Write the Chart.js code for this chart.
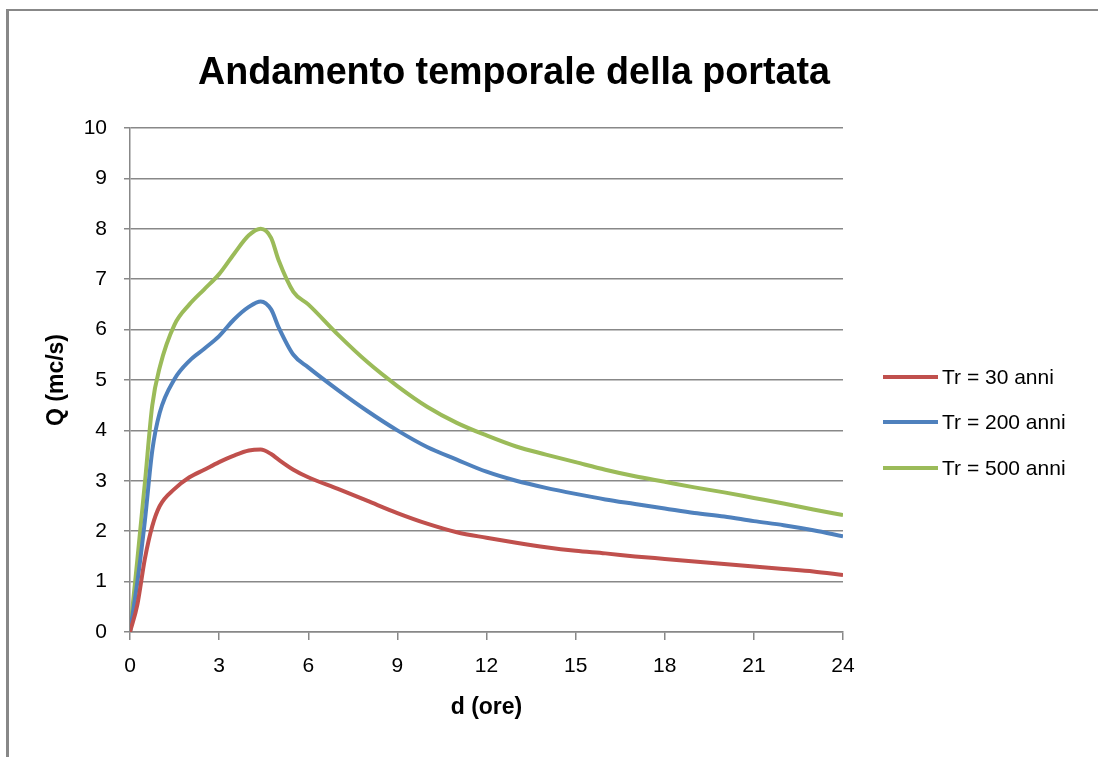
<!DOCTYPE html>
<html>
<head>
<meta charset="utf-8">
<script src="https://cdn.jsdelivr.net/npm/chart.js@4"></script>
<style>
  html, body { margin: 0; padding: 0; background: #fff; }
  #wrap { position: relative; width: 1098px; height: 757px; overflow: hidden; }
  #frame { position: absolute; left: 6px; top: 9px; width: 1200px; height: 900px;
           border-top: 2px solid #888; border-left: 3px solid #888; }
  canvas { position: absolute; left: 0; top: 0; }
</style>
</head>
<body>
<div id="wrap">
  <div id="frame"></div>
  <canvas id="myChart" width="1098" height="757"></canvas>
</div>
<script>
// hours
const hours = [0, 0.25, 0.5, 0.75, 1, 1.5, 2, 2.5, 3, 3.5, 4, 4.4, 4.75, 5, 5.5, 6,
  7, 8, 9, 10, 11, 12, 13, 14, 15, 16, 17, 18, 19, 20, 21, 22, 23, 24];

// Q (mc/s) per return period
const tr30 = [0, 0.55, 1.45, 2.1, 2.5, 2.84, 3.07, 3.22, 3.37, 3.5, 3.6, 3.62, 3.53, 3.42, 3.22, 3.07,
  2.84, 2.6, 2.36, 2.15, 1.98, 1.87, 1.77, 1.68, 1.61, 1.56, 1.5, 1.45, 1.4, 1.35, 1.3, 1.25, 1.2, 1.13];
const tr200 = [0, 1.0, 2.2, 3.6, 4.35, 5.02, 5.38, 5.62, 5.87, 6.2, 6.45, 6.56, 6.4, 6.05, 5.5, 5.25,
  4.8, 4.38, 4.0, 3.67, 3.42, 3.18, 3.0, 2.86, 2.74, 2.63, 2.54, 2.45, 2.36, 2.29, 2.2, 2.12, 2.02, 1.9];
const tr500 = [0, 1.45, 2.95, 4.5, 5.25, 6.1, 6.5, 6.8, 7.1, 7.5, 7.87, 8.0, 7.82, 7.38, 6.75, 6.5,
  5.9, 5.35, 4.88, 4.47, 4.15, 3.9, 3.68, 3.52, 3.37, 3.22, 3.09, 2.98, 2.87, 2.77, 2.66, 2.55, 2.43, 2.32];

const seriesLabels = ['Tr = 30 anni', 'Tr = 200 anni', 'Tr = 500 anni'];
const colors = ['#C0504D', '#4F81BD', '#9BBB59'];
const chartTitle = 'Andamento temporale della portata';

const toPoints = vals => hours.map((h, i) => ({ x: h, y: vals[i] }));

const titlePlugin = {
  id: 'excelTitle',
  afterDraw(chart) {
    const ctx = chart.ctx;
    ctx.save();
    ctx.fillStyle = '#000';
    ctx.font = 'bold 38px "Liberation Sans", Arial, sans-serif';
    ctx.textAlign = 'center';
    ctx.textBaseline = 'alphabetic';
    ctx.fillText(chartTitle, 514, 84, 632);
    ctx.restore();
  }
};

const legendPlugin = {
  id: 'sideLegend',
  afterDraw(chart) {
    const ctx = chart.ctx;
    const rows = [377, 422, 468];
    ctx.save();
    ctx.font = '21px "Liberation Sans", Arial, sans-serif';
    ctx.textBaseline = 'middle';
    ctx.textAlign = 'left';
    chart.data.datasets.forEach((ds, i) => {
      ctx.strokeStyle = ds.borderColor;
      ctx.lineWidth = 4;
      ctx.beginPath();
      ctx.moveTo(883, rows[i]);
      ctx.lineTo(938, rows[i]);
      ctx.stroke();
      ctx.fillStyle = '#000';
      ctx.fillText(ds.label, 942, rows[i] + 1);
    });
    ctx.restore();
  }
};

new Chart(document.getElementById('myChart'), {
  type: 'line',
  data: {
    datasets: [tr30, tr200, tr500].map((vals, i) => ({
      label: seriesLabels[i],
      data: toPoints(vals),
      borderColor: colors[i],
      backgroundColor: colors[i],
      borderWidth: 4,
      pointRadius: 0,
      tension: 0.4,
      cubicInterpolationMode: 'monotone',
      fill: false
    }))
  },
  options: {
    responsive: false,
    animation: false,
    layout: { padding: { left: 39, right: 255, top: 128, bottom: 32 } },
    plugins: {
      legend: { display: false },
      title: { display: false },
      tooltip: { enabled: false }
    },
    scales: {
      x: {
        type: 'linear',
        min: 0,
        max: 24,
        afterFit: s => { s.height = 93; },
        ticks: {
          stepSize: 3,
          color: '#000',
          padding: 14,
          maxRotation: 0,
          font: { family: '"Liberation Sans", Arial, sans-serif', size: 21 }
        },
        grid: { drawOnChartArea: false, drawTicks: true, tickLength: 8, color: '#888', lineWidth: 1.5 },
        border: { color: '#888', width: 1.5 },
        title: {
          display: true,
          text: 'd (ore)',
          color: '#000',
          font: { family: '"Liberation Sans", Arial, sans-serif', size: 23, weight: 'bold' }
        }
      },
      y: {
        min: 0,
        max: 10,
        afterFit: s => { s.width = 91; },
        ticks: {
          stepSize: 1,
          color: '#000',
          padding: 17,
          font: { family: '"Liberation Sans", Arial, sans-serif', size: 21 }
        },
        grid: { color: '#888', lineWidth: 1.5, tickLength: 6 },
        border: { color: '#888', width: 1.5 },
        title: {
          display: true,
          text: 'Q (mc/s)',
          color: '#000',
          font: { family: '"Liberation Sans", Arial, sans-serif', size: 23, weight: 'bold' }
        }
      }
    }
  },
  plugins: [titlePlugin, legendPlugin]
});
</script>
</body>
</html>
